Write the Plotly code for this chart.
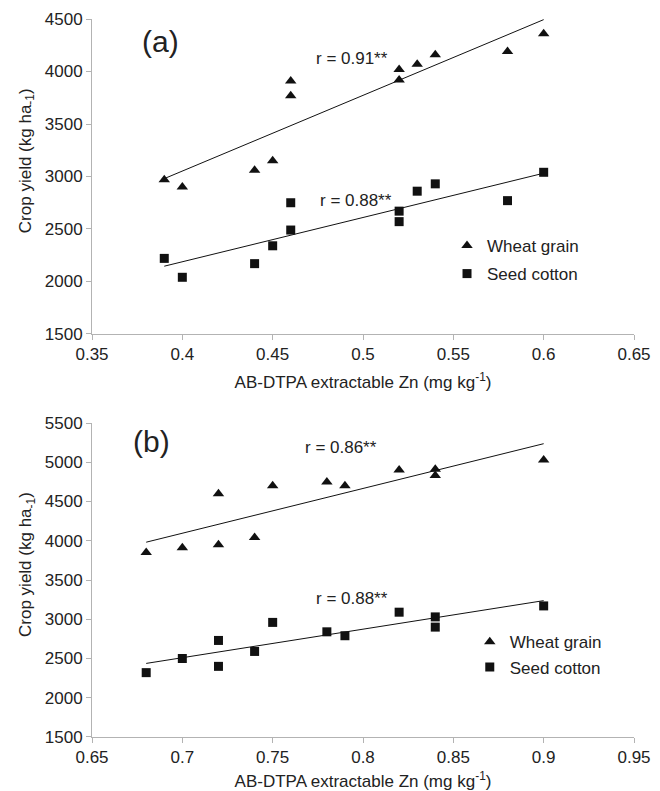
import numpy as np
import plotly.graph_objects as go

# ---------------- data ----------------
zn_a = [0.39, 0.40, 0.44, 0.45, 0.46, 0.46, 0.52, 0.52, 0.53, 0.54, 0.58, 0.60]
wheat_a = [2970, 2900, 3060, 3150, 3910, 3770, 4020, 3920, 4070, 4160, 4190, 4360]
cotton_a = [2220, 2040, 2170, 2340, 2750, 2490, 2670, 2570, 2860, 2930, 2770, 3040]

zn_b = [0.68, 0.70, 0.72, 0.72, 0.74, 0.75, 0.78, 0.79, 0.82, 0.84, 0.84, 0.90]
wheat_b = [3850, 3910, 4600, 3950, 4040, 4700, 4750, 4700, 4900, 4910, 4830, 5030]
cotton_b = [2320, 2500, 2730, 2400, 2590, 2960, 2840, 2790, 3090, 3030, 2900, 3170]

xticks_a = [0.35, 0.40, 0.45, 0.50, 0.55, 0.60, 0.65]
xticklabels_a = ["0.35", "0.4", "0.45", "0.5", "0.55", "0.6", "0.65"]
xticks_b = [0.65, 0.70, 0.75, 0.80, 0.85, 0.90, 0.95]
xticklabels_b = ["0.65", "0.7", "0.75", "0.8", "0.85", "0.9", "0.95"]
yticks_a = [1500, 2000, 2500, 3000, 3500, 4000, 4500]
yticks_b = [1500, 2000, 2500, 3000, 3500, 4000, 4500, 5000, 5500]

r_labels_a = ["r = 0.91**", "r = 0.88**"]
r_labels_b = ["r = 0.86**", "r = 0.88**"]
series_names = ["Wheat grain", "Seed cotton"]

# ---------------- style ----------------
FONT = "Liberation Sans, Arial, sans-serif"
TXT = "#222222"
AX = "#b3b3b3"
MK = "#111111"

fig = go.Figure()


def add_panel(x, wheat, cotton, xa, ya, legend):
    for ys, sym, size, name in [(wheat, "triangle-up", 10, series_names[0]),
                                (cotton, "square", 9, series_names[1])]:
        fig.add_trace(go.Scatter(
            x=x, y=ys, mode="markers", name=name,
            marker=dict(symbol=sym, size=size, color=MK),
            xaxis=xa, yaxis=ya, legend=legend, legendgroup=legend + name,
            showlegend=True))
    for ys in (wheat, cotton):
        slope, icpt = np.polyfit(x, ys, 1)
        xs = np.array([min(x), max(x)])
        fig.add_trace(go.Scatter(
            x=xs, y=slope * xs + icpt, mode="lines",
            line=dict(color=MK, width=1), xaxis=xa, yaxis=ya,
            showlegend=False, hoverinfo="skip"))


add_panel(zn_a, wheat_a, cotton_a, "x", "y", "legend")
add_panel(zn_b, wheat_b, cotton_b, "x2", "y2", "legend2")

common_ax = dict(showline=True, linecolor=AX, linewidth=1, ticks="outside",
                 ticklen=5, tickcolor=AX, showgrid=False, zeroline=False,
                 tickfont=dict(size=17, color=TXT, family=FONT), automargin=False)

xtitle = "AB-DTPA extractable Zn (mg kg<sup>-1</sup>)"

fig.update_layout(
    width=660, height=791,
    margin=dict(l=92, r=26, t=19, b=54),
    paper_bgcolor="white", plot_bgcolor="white",
    font=dict(family=FONT, size=17, color=TXT),
    xaxis=dict(domain=[0, 1], anchor="y", range=[0.35, 0.65],
               tickvals=xticks_a, ticktext=xticklabels_a,
               title=dict(text=xtitle, standoff=12, font=dict(size=17)), **common_ax),
    yaxis=dict(domain=[0.5613, 1], anchor="x", range=[1500, 4500],
               tickvals=yticks_a, ticktext=[str(v) for v in yticks_a], **common_ax),
    xaxis2=dict(domain=[0, 1], anchor="y2", range=[0.65, 0.95],
                tickvals=xticks_b, ticktext=xticklabels_b,
                title=dict(text=xtitle, standoff=12, font=dict(size=17)), **common_ax),
    yaxis2=dict(domain=[0, 0.4373], anchor="x2", range=[1500, 5500],
                tickvals=yticks_b, ticktext=[str(v) for v in yticks_b], **common_ax),
    legend=dict(x=0.655, y=0.709, xanchor="left", yanchor="top",
                bgcolor="rgba(0,0,0,0)", itemwidth=30, tracegroupgap=3,
                font=dict(size=17, color=TXT)),
    legend2=dict(x=0.697, y=0.157, xanchor="left", yanchor="top",
                 bgcolor="rgba(0,0,0,0)", itemwidth=30, tracegroupgap=0,
                 font=dict(size=17, color=TXT)),
)

ann = []
# panel letters
ann.append(dict(x=0.388, y=4290, xref="x", yref="y", text="(a)", showarrow=False,
                font=dict(size=30, color=TXT)))
ann.append(dict(x=0.683, y=5262, xref="x2", yref="y2", text="(b)", showarrow=False,
                font=dict(size=30, color=TXT)))
# correlation labels
ann.append(dict(x=0.494, y=4124, xref="x", yref="y", text=r_labels_a[0], showarrow=False,
                font=dict(size=17, color=TXT)))
ann.append(dict(x=0.496, y=2771, xref="x", yref="y", text=r_labels_a[1], showarrow=False,
                font=dict(size=17, color=TXT)))
ann.append(dict(x=0.788, y=5182, xref="x2", yref="y2", text=r_labels_b[0], showarrow=False,
                font=dict(size=17, color=TXT)))
ann.append(dict(x=0.794, y=3261, xref="x2", yref="y2", text=r_labels_b[1], showarrow=False,
                font=dict(size=17, color=TXT)))
# y-axis titles
ytitle = "Crop yield (kg ha<sub>-1</sub>)"
for yy in (0.802, 0.2396):
    ann.append(dict(x=0, y=yy, xref="paper", yref="paper", xshift=-65, text=ytitle,
                    textangle=-90, showarrow=False, xanchor="center", yanchor="middle",
                    font=dict(size=17, color=TXT)))
fig.update_layout(annotations=ann)

fig.write_html("out.html", post_script="document.body.style.margin='0';",
               config={"displayModeBar": False})
